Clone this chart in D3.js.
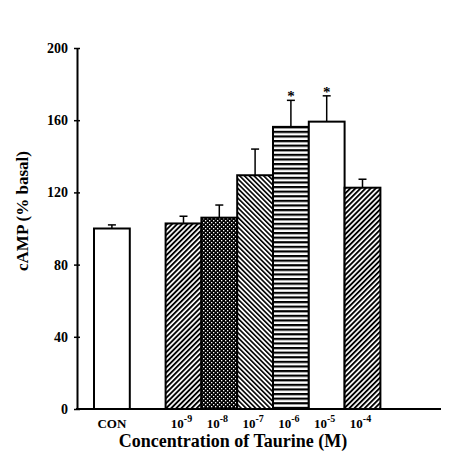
<!DOCTYPE html>
<html>
<head>
<meta charset="utf-8">
<script src="https://d3js.org/d3.v7.min.js"></script>
<style>
  body { margin: 0; background: #fff; }
</style>
</head>
<body>
<div id="chart"></div>
<script>
// chart values
var conditions = ["CON", "1e-9", "1e-8", "1e-7", "1e-6", "1e-5", "1e-4"];
var exponents = [null, "-9", "-8", "-7", "-6", "-5", "-4"];
var means = [100, 102.8, 106, 129.5, 156.3, 159.2, 122.6];
var errors = [2, 4, 7, 14.5, 14.7, 14.3, 4.7];
var significant = [false, false, false, false, true, true, false];
var yTicks = [0, 40, 80, 120, 160, 200];

var serif = "'Liberation Serif', 'Times New Roman', serif";

var svgWidth = 465;
var svgHeight = 464;
var margin = { top: 48, right: 24, bottom: 55, left: 77 };
var plotwidth = svgWidth - margin.left - margin.right;
var plotheight = svgHeight - margin.top - margin.bottom;

var svg = d3.select("#chart")
  .append("svg")
  .attr("width", svgWidth)
  .attr("height", svgHeight);

// fill patterns, one per bar
var defs = svg.append("defs");

function stripes(id, angle, period, thick) {
  var p = defs.append("pattern")
    .attr("id", id)
    .attr("patternUnits", "userSpaceOnUse")
    .attr("width", period)
    .attr("height", period)
    .attr("patternTransform", "rotate(" + angle + ")");
  p.append("rect").attr("width", period).attr("height", period).attr("fill", "#fff");
  p.append("rect").attr("width", thick).attr("height", period).attr("fill", "#000");
}
stripes("diagUp", 45, 3.6, 1.9);
stripes("diagDown", -45, 3.4, 1.6);
stripes("horiz", 90, 4.6, 2.2);

var dots = defs.append("pattern")
  .attr("id", "dots")
  .attr("patternUnits", "userSpaceOnUse")
  .attr("width", 4)
  .attr("height", 4);
dots.append("rect").attr("width", 4).attr("height", 4).attr("fill", "#000");
dots.append("rect").attr("x", 0).attr("y", 0).attr("width", 1.3).attr("height", 1.3).attr("fill", "#fff");
dots.append("rect").attr("x", 2).attr("y", 2).attr("width", 1.3).attr("height", 1.3).attr("fill", "#fff");

var fills = {
  "CON": "#fff", "1e-9": "url(#diagUp)", "1e-8": "url(#dots)", "1e-7": "url(#diagDown)",
  "1e-6": "url(#horiz)", "1e-5": "#fff", "1e-4": "url(#diagUp)"
};

var chartGroup = svg.append("g")
  .attr("transform", `translate(${margin.left}, ${margin.top})`);

// an empty slot sits between CON and the taurine doses
var slots = ["CON", "gap"].concat(conditions.slice(1));
var x = d3.scaleBand()
  .domain(slots)
  .range([17, 17 + 8 * 35.8])
  .padding(0);

var y = d3.scaleLinear()
  .domain([0, 200])
  .range([plotheight, 0]);

var rows = conditions.map((c, i) => ({
  cond: c, exp: exponents[i], mean: means[i], err: errors[i], sig: significant[i]
}));

// bars
chartGroup.selectAll(".bar")
  .data(rows)
  .enter()
  .append("rect")
  .attr("class", "bar")
  .attr("x", d => x(d.cond))
  .attr("y", d => y(d.mean))
  .attr("width", x.bandwidth())
  .attr("height", d => plotheight - y(d.mean))
  .attr("fill", d => fills[d.cond])
  .attr("stroke", "#000")
  .attr("stroke-width", 2);

// error bars
var eb = chartGroup.selectAll(".err")
  .data(rows)
  .enter()
  .append("g")
  .attr("class", "err");
eb.append("line")
  .attr("x1", d => x(d.cond) + x.bandwidth() / 2)
  .attr("x2", d => x(d.cond) + x.bandwidth() / 2)
  .attr("y1", d => y(d.mean))
  .attr("y2", d => y(d.mean + d.err))
  .attr("stroke", "#000")
  .attr("stroke-width", 1.5);
eb.append("line")
  .attr("x1", d => x(d.cond) + x.bandwidth() / 2 - 4)
  .attr("x2", d => x(d.cond) + x.bandwidth() / 2 + 4)
  .attr("y1", d => y(d.mean + d.err))
  .attr("y2", d => y(d.mean + d.err))
  .attr("stroke", "#000")
  .attr("stroke-width", 1.5);

// significance stars
chartGroup.selectAll(".star")
  .data(rows.filter(d => d.sig))
  .enter()
  .append("text")
  .attr("class", "star")
  .attr("x", d => x(d.cond) + x.bandwidth() / 2)
  .attr("y", d => y(d.mean + d.err) + 1)
  .attr("text-anchor", "middle")
  .style("font-family", serif)
  .style("font-weight", "bold")
  .style("font-size", "15px")
  .text("*");

// y axis
var yaxis = d3.axisLeft(y)
  .tickValues(yTicks)
  .tickSizeInner(3)
  .tickSizeOuter(0)
  .tickPadding(6);
var yg = chartGroup.append("g").call(yaxis);
yg.select(".domain").attr("stroke-width", 2);
yg.selectAll(".tick line").attr("x2", -3).attr("x1", 3).attr("stroke-width", 1.5);
yg.selectAll(".tick text")
  .attr("fill", "#000")
  .style("font-size", "14px")
  .style("font-family", serif)
  .style("font-weight", "bold");

// x axis line
chartGroup.append("line")
  .attr("x1", -1)
  .attr("x2", 364)
  .attr("y1", plotheight)
  .attr("y2", plotheight)
  .attr("stroke", "#000")
  .attr("stroke-width", 2);

// category labels with superscript exponents
var xl = chartGroup.selectAll(".xlab")
  .data(rows)
  .enter()
  .append("text")
  .attr("class", "xlab")
  .attr("x", d => x(d.cond) + x.bandwidth() / 2 - (d.exp ? 2 : 0))
  .attr("y", plotheight + 19)
  .attr("text-anchor", "middle")
  .style("font-family", serif)
  .style("font-weight", "bold")
  .style("font-size", "13px");
xl.filter(d => !d.exp).text(d => d.cond);
xl.filter(d => d.exp).append("tspan").text("10");
xl.filter(d => d.exp).append("tspan")
  .attr("dy", -6)
  .style("font-size", "10px")
  .text(d => d.exp);

// axis titles
chartGroup.append("text")
  .attr("transform", "rotate(-90)")
  .attr("y", 22 - margin.left + 6)
  .attr("x", 0 - (211 - margin.top))
  .attr("text-anchor", "middle")
  .style("font-family", serif)
  .style("font-weight", "bold")
  .style("font-size", "17px")
  .text("cAMP  (% basal)");

chartGroup.append("text")
  .attr("x", 233 - margin.left)
  .attr("y", plotheight + 38)
  .attr("text-anchor", "middle")
  .style("font-family", serif)
  .style("font-weight", "bold")
  .style("font-size", "18px")
  .text("Concentration of Taurine (M)");
</script>
</body>
</html>
